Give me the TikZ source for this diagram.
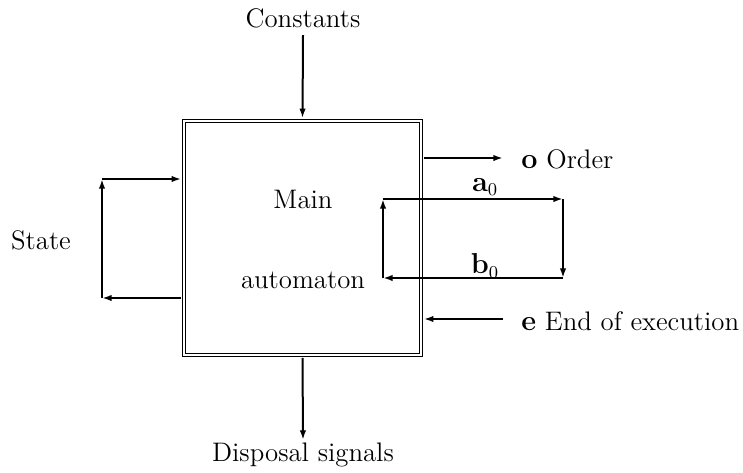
\documentclass[tikz,border=0pt]{standalone}
\usetikzlibrary{arrows.meta}
\begin{document}
\begin{tikzpicture}[x=0.5pt,y=-0.5pt,
  every node/.style={font=\fontsize{13.4}{15}\selectfont},
  arr/.style={-{Latex[length=4.8pt,width=3.2pt]},line width=1pt},
  mainbox/.style={draw,double,double distance=0.55pt,line width=0.8pt,minimum width=118.5pt,minimum height=117pt,inner sep=0pt}]
\useasboundingbox (0,0) rectangle (743,472);
\node[mainbox] (box) at (302.5,238) {};
\node (main) at (303,199) {Main};
\node (auto) at (303,280) {automaton};
\node (const) at (303,18) {Constants};
\node (disp) at (303,455) {Disposal signals};
\node (state) at (41,240) {State};
\node[anchor=west,inner sep=0pt] (order) at (521,159) {$\mathbf{o}$ Order};
\node[anchor=west,inner sep=0pt] (endex) at (521,321) {$\mathbf{e}$ End of execution};
\node (a0) at (485,187) {$\mathbf{a}_0$};
\node (b0) at (485,266) {$\mathbf{b}_0$};
\coordinate (oend) at (503,158);
\coordinate (estart) at (503,319);
\coordinate (la) at (383,199);
\coordinate (ra) at (563,199);
\coordinate (rb) at (563,278);
\coordinate (lb) at (383,278);
\coordinate (s1) at (102,179);
\coordinate (s2) at (102,298);
\coordinate (ctop) at (303,35);
\coordinate (dbot) at (303,440);
\draw[arr,shorten >=1pt] (ctop) -- (box.north);
\draw[arr,shorten <=1pt] (box.south) -- (dbot);
\draw[arr,shorten <=1pt] (box.east |- oend) -- (oend);
\draw[arr,shorten >=1pt] (estart) -- (box.east |- estart);
\draw[arr] (lb) -- (la);
\draw[arr] (la) -- (ra);
\draw[arr] (ra) -- (rb);
\draw[arr] (rb) -- (lb);
\draw[arr,shorten <=1pt] (box.west |- s2) -- (s2);
\draw[arr] (s2) -- (s1);
\draw[arr,shorten >=1pt] (s1) -- (box.west |- s1);
\end{tikzpicture}
\end{document}
